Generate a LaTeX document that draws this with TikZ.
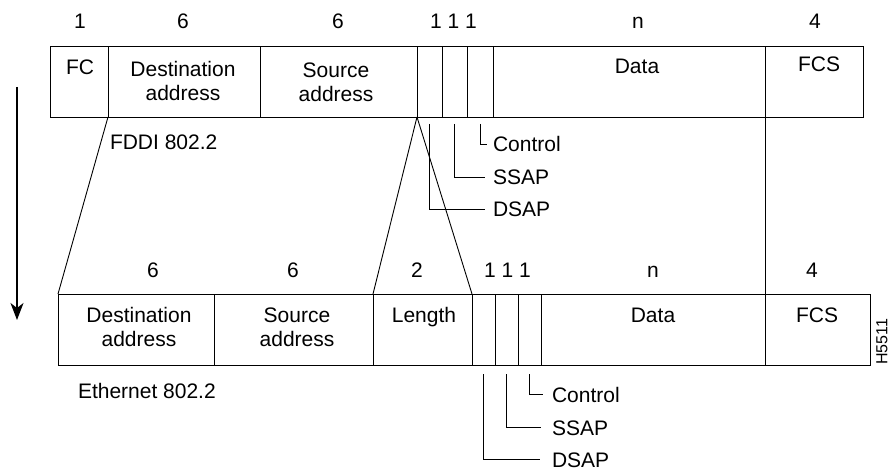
\documentclass[tikz,border=0pt]{standalone}
\usepackage{fontspec}
\setmainfont{Liberation Sans}
\usetikzlibrary{arrows.meta,calc}
\begin{document}
\begin{tikzpicture}[x=1pt,y=-1pt,
  every node/.style={inner sep=0pt,outer sep=0pt},
  fld/.style={draw,line width=0.9pt,minimum height=71pt,inner sep=0pt},
  txt/.style={font=\fontsize{21}{24}\selectfont,align=center},
  num/.style={font=\fontsize{21}{24}\selectfont,anchor=base},
  bl/.style={font=\fontsize{21}{24}\selectfont,anchor=base},
  cl/.style={font=\fontsize{21}{24}\selectfont,anchor=west,text height=15pt,text depth=0pt},
  wire/.style={line width=0.9pt}]
\useasboundingbox (0,0) rectangle (891,470);
% top frame (FDDI)
\node[fld,minimum width=58pt]  (tfc)   at (79,81.5) {};
\node[fld,minimum width=152pt] (tdst)  at (184,81.5) {};
\node[fld,minimum width=157pt] (tsrc)  at (338.5,81.5) {};
\node[fld,minimum width=25pt]  (tdsap) at (429.5,81.5) {};
\node[fld,minimum width=25pt]  (tssap) at (454.5,81.5) {};
\node[fld,minimum width=26pt]  (tctl)  at (480,81.5) {};
\node[fld,minimum width=272pt] (tdata) at (629,81.5) {};
\node[fld,minimum width=98pt]  (tfcs)  at (814,81.5) {};
% top texts
\node[bl] (tfcT) at (80,75) {FC};
\node[txt] (tdstT) at (183,80.5) {Destination\\address};
\node[txt] (tsrcT) at (336,82.5) {Source\\address};
\node[bl] (tdataT) at (637,74) {Data};
\node[bl] (tfcsT) at (819,72) {FCS};
% top numbers
\node[num] (tn1) at (80,28.5) {1};
\node[num] (tn2) at (183,28.5) {6};
\node[num] (tn3) at (338,28.5) {6};
\node[num] (tn4) at (453.5,28.5) {1 1 1};
\node[num] (tn5) at (638,28.5) {n};
\node[num] (tn6) at (815,28.5) {4};
\node[bl,anchor=base west] (fddi) at (110,150) {FDDI 802.2};
% top callouts
\node[cl] (tctlL)  at (493,144.5) {Control};
\node[cl] (tssapL) at (493,177.5) {SSAP};
\node[cl] (tdsapL) at (493,209.5) {DSAP};
\draw[wire] ($(tctl.south)+(0,7)$) |- ([xshift=-6pt]tctlL.west);
\draw[wire] ($(tssap.south)+(0,7)$) |- ([xshift=-8pt]tssapL.west);
\draw[wire] ($(tdsap.south)+(0,7)$) |- ([xshift=-8pt]tdsapL.west);
% bottom frame (Ethernet)
\node[fld,minimum width=156pt] (bdst)  at (136,329.5) {};
\node[fld,minimum width=159pt] (bsrc)  at (293.5,329.5) {};
\node[fld,minimum width=99pt]  (blen)  at (422.5,329.5) {};
\node[fld,minimum width=23pt]  (bdsap) at (483.5,329.5) {};
\node[fld,minimum width=23pt]  (bssap) at (506.5,329.5) {};
\node[fld,minimum width=23pt]  (bctl)  at (529.5,329.5) {};
\node[fld,minimum width=224pt] (bdata) at (653,329.5) {};
\node[fld,minimum width=105pt] (bfcs)  at (817.5,329.5) {};
% bottom texts
\node[txt] (bdstT) at (139,327) {Destination\\address};
\node[txt] (bsrcT) at (297,327) {Source\\address};
\node[bl] (blenT) at (424,322) {Length};
\node[bl] (bdataT) at (653,322) {Data};
\node[bl] (bfcsT) at (817,322) {FCS};
% bottom numbers
\node[num] (bn1) at (153,278) {6};
\node[num] (bn2) at (293,278) {6};
\node[num] (bn3) at (417,278) {2};
\node[num] (bn4) at (507.5,278) {1 1 1};
\node[num] (bn5) at (653,278) {n};
\node[num] (bn6) at (812,278) {4};
\node[bl,anchor=base west] (eth) at (78,398) {Ethernet 802.2};
% bottom callouts
\node[cl] (bctlL)  at (552,394.5) {Control};
\node[cl] (bssapL) at (552,427.5) {SSAP};
\node[cl] (bdsapL) at (552,459.5) {DSAP};
\draw[wire] ($(bctl.south)+(0,9)$) |- ([xshift=-9pt]bctlL.west);
\draw[wire] ($(bssap.south)+(0,9)$) |- ([xshift=-11pt]bssapL.west);
\draw[wire] ($(bdsap.south)+(0,9)$) |- ([xshift=-12pt]bdsapL.west);
% mapping lines
\draw[wire] (tfc.south east) -- (bdst.north west);
\draw[wire] (tsrc.south east) -- (bsrc.north east);
\draw[wire] (tsrc.south east) -- (blen.north east);
\draw[wire] (tdata.south east) -- (bdata.north east);
% direction arrow
\coordinate (a1) at (17,87);
\coordinate (a2) at (17,320);
\draw[line width=1.1pt,-{Stealth[length=17pt,width=13pt,inset=5pt]}] (a1) -- (a2);
% figure id
\node[font=\fontsize{16}{18}\selectfont,rotate=90] (hid) at (882,342) {H5511};
\end{tikzpicture}
\end{document}
